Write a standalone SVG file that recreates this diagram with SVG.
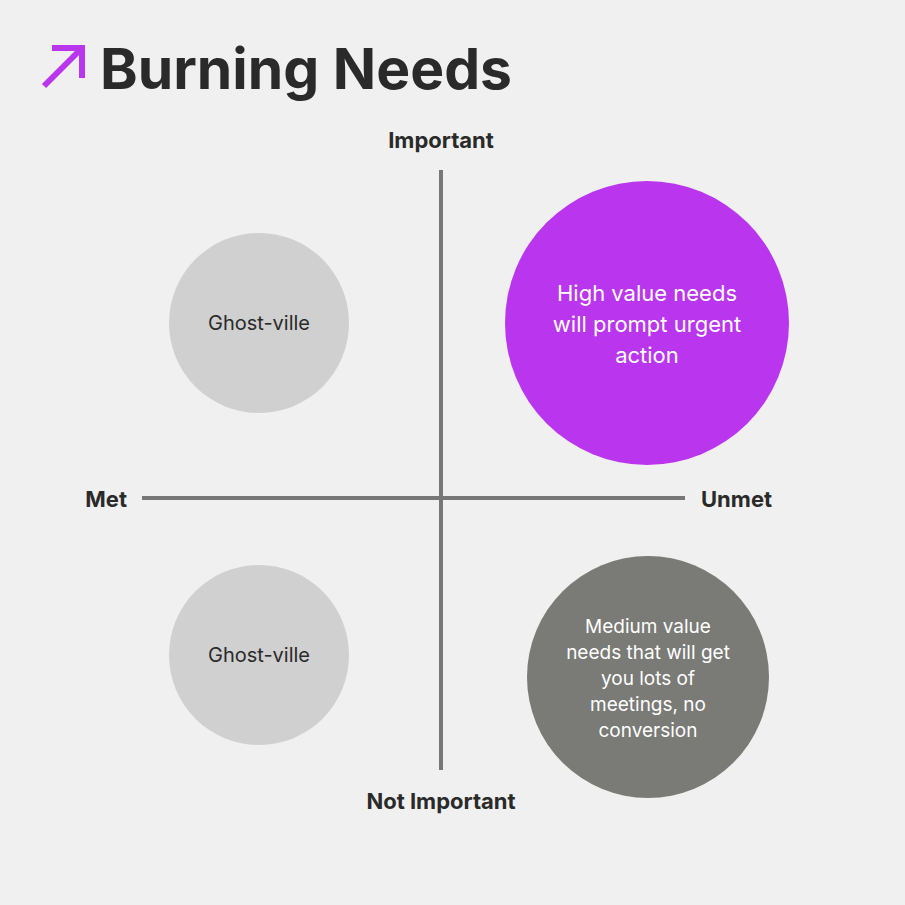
<svg xmlns="http://www.w3.org/2000/svg" width="905" height="905" viewBox="0 0 905 905">
<style>
.t{font-family:Inter,"Liberation Sans",sans-serif;fill:#2a2a2a}
.ax{font-weight:700;font-size:22px}
.ax2{stroke:#777;stroke-width:4}
</style>
<rect width="905" height="905" fill="#f0f0f0"/>
<g id="title">
<path d="M44 86 L82 48 M52 48 H82 V78" stroke="#b936ee" stroke-width="6" fill="none"/>
<text class="t" x="100" y="89" font-size="56" font-weight="700" textLength="412" lengthAdjust="spacingAndGlyphs">Burning Needs</text>
</g>
<g id="axes">
<line class="ax2" x1="441" y1="170" x2="441" y2="770"/>
<line class="ax2" x1="142" y1="498" x2="685" y2="498"/>
</g>
<g id="labels">
<text class="t ax" x="441" y="148" text-anchor="middle">Important</text>
<text class="t ax" x="441" y="809" text-anchor="middle">Not Important</text>
<text class="t ax" x="127" y="507" text-anchor="end">Met</text>
<text class="t ax" x="701" y="507">Unmet</text>
</g>
<g id="ghost1"><circle cx="259" cy="323" r="90" fill="#d0d0d0"/><text class="t" x="259" y="330" font-size="20" text-anchor="middle">Ghost-ville</text></g>
<g id="ghost2"><circle cx="259" cy="655" r="90" fill="#d0d0d0"/><text class="t" x="259" y="662" font-size="20" text-anchor="middle">Ghost-ville</text></g>
<g id="high"><circle cx="647" cy="323" r="142" fill="#b936ee"/>
<text font-family="Inter,'Liberation Sans',sans-serif" font-size="22" fill="#fff" text-anchor="middle"><tspan x="647" y="301">High value needs</tspan><tspan x="647" y="332">will prompt urgent</tspan><tspan x="647" y="363">action</tspan></text></g>
<g id="medium"><circle cx="648" cy="677" r="121" fill="#7a7a76"/>
<text font-family="Inter,'Liberation Sans',sans-serif" font-size="19" fill="#fff" text-anchor="middle"><tspan x="648" y="633">Medium value</tspan><tspan x="648" y="659">needs that will get</tspan><tspan x="648" y="685">you lots of</tspan><tspan x="648" y="711">meetings, no</tspan><tspan x="648" y="737">conversion</tspan></text></g>
</svg>
